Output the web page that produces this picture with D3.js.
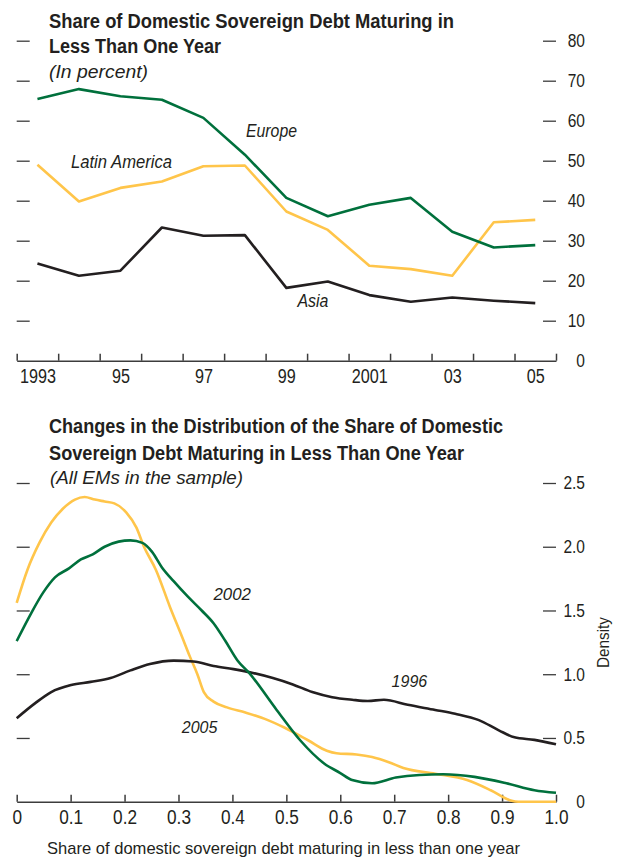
<!DOCTYPE html>
<html>
<head>
<meta charset="utf-8">
<script src="https://cdn.jsdelivr.net/npm/d3@7"></script>
<style>
  body { margin: 0; background: #fff; }
  svg { display: block; font-family: "Liberation Sans", Arial, sans-serif; }
</style>
</head>
<body>
<div id="chart"></div>
<script>
// Top panel: share maturing in < 1 year (percent)
const years = [1993, 1994, 1995, 1996, 1997, 1998, 1999, 2000, 2001, 2002, 2003, 2004, 2005];
const yearLabels = ["1993", "95", "97", "99", "2001", "03", "05"];
const europe = [65.4, 67.9, 66.1, 65.25, 60.7, 51.5, 40.7, 36.1, 39, 40.7, 32.25, 28.3, 28.9];
const latinAmerica = [49, 39.8, 43.2, 44.8, 48.6, 48.8, 37.3, 32.7, 23.75, 22.9, 21.25, 34.6, 35.2];
const asia = [24.3, 21.25, 22.5, 33.3, 31.25, 31.4, 18.2, 19.8, 16.4, 14.75, 15.8, 15, 14.4];
const percentTicks = [0, 10, 20, 30, 40, 50, 60, 70, 80];

// Bottom panel: densities [share, density]
const density1996 = [[0,0.655],[0.035,0.775],[0.064,0.86],[0.101,0.915],[0.137,0.94],[0.174,0.97],[0.211,1.03],[0.247,1.08],[0.291,1.107],[0.328,1.10],[0.365,1.065],[0.402,1.04],[0.438,1.01],[0.475,0.97],[0.512,0.92],[0.548,0.86],[0.585,0.82],[0.622,0.80],[0.651,0.79],[0.681,0.80],[0.725,0.76],[0.776,0.72],[0.813,0.69],[0.857,0.64],[0.894,0.56],[0.923,0.505],[0.960,0.485],[1.0,0.45]];
const density2002 = [[0,1.26],[0.027,1.48],[0.049,1.64],[0.071,1.76],[0.097,1.83],[0.119,1.90],[0.141,1.94],[0.163,2.0],[0.189,2.04],[0.211,2.05],[0.233,2.03],[0.251,1.96],[0.269,1.84],[0.291,1.73],[0.317,1.61],[0.343,1.50],[0.365,1.40],[0.387,1.26],[0.409,1.11],[0.431,1.01],[0.482,0.72],[0.526,0.48],[0.570,0.30],[0.600,0.225],[0.622,0.17],[0.659,0.145],[0.703,0.19],[0.747,0.21],[0.791,0.215],[0.849,0.195],[0.908,0.145],[0.960,0.09],[1.0,0.07]];
const density2005 = [[0,1.56],[0.02,1.82],[0.042,2.03],[0.064,2.19],[0.086,2.30],[0.108,2.37],[0.126,2.39],[0.145,2.37],[0.163,2.355],[0.181,2.34],[0.203,2.27],[0.222,2.15],[0.236,2.0],[0.258,1.82],[0.284,1.53],[0.306,1.30],[0.321,1.14],[0.335,1.0],[0.347,0.86],[0.365,0.785],[0.39,0.74],[0.424,0.70],[0.46,0.65],[0.497,0.58],[0.541,0.48],[0.575,0.40],[0.593,0.38],[0.63,0.37],[0.659,0.35],[0.69,0.31],[0.717,0.265],[0.776,0.22],[0.835,0.17],[0.879,0.09],[0.916,0.01],[0.93,0],[1.0,0]];
const shareTicks = [0, 0.1, 0.2, 0.3, 0.4, 0.5, 0.6, 0.7, 0.8, 0.9, 1.0];
const densityTicks = [0, 0.5, 1.0, 1.5, 2.0, 2.5];

const green = "#00703c", yellow = "#ffc54a", black = "#231f20";
const ink = "#231f20", axisInk = "#3c3c3c";
const width = 619, height = 858;
const left = 16.7, right = 556;

const svg = d3.select("#chart").append("svg")
    .attr("width", width)
    .attr("height", height);

// squeeze text horizontally (condensed look); target width if given, else factor
function condense(sel, target, k = 0.81) {
    sel.each(function () {
        const w = this.getComputedTextLength();
        d3.select(this)
            .attr("textLength", target || w * k)
            .attr("lengthAdjust", "spacingAndGlyphs");
    });
}

function label(x, y, txt, opts) {
    const t = svg.append("text")
        .attr("x", x).attr("y", y)
        .attr("fill", ink)
        .attr("font-size", opts.size + "px")
        .attr("font-weight", opts.bold ? "bold" : null)
        .attr("font-style", opts.italic ? "italic" : null)
        .attr("text-anchor", opts.anchor || "start")
        .text(txt);
    condense(t, opts.w);
    return t;
}

// ---------- Top panel ----------
const xTop = d3.scaleLinear().domain([1992.5, 2005.5]).range([left, right]);
const yTop = d3.scaleLinear().domain([0, 80]).range([360.7, 40.7]);

label(49, 28, "Share of Domestic Sovereign Debt Maturing in", { size: 20, bold: true, w: 405 });
label(49, 53, "Less Than One Year", { size: 20, bold: true, w: 172 });
label(49, 78, "(In percent)", { size: 18, italic: true, w: 99 });

// left dashes
svg.append("g")
    .attr("transform", `translate(${left},0)`)
    .call(d3.axisLeft(yTop).tickValues(percentTicks.filter(d => d > 0)).tickSize(-13).tickFormat(""))
    .call(g => g.select(".domain").remove())
    .call(g => g.selectAll("line").attr("stroke", axisInk).attr("stroke-width", 1.3));

// right axis
svg.append("g")
    .attr("transform", `translate(${right},0)`)
    .call(d3.axisRight(yTop).tickValues(percentTicks).tickSize(-13).tickPadding(29))
    .call(g => g.select(".domain").remove())
    .call(g => g.selectAll("line").attr("stroke", axisInk).attr("stroke-width", 1.3)
        .filter(d => d === 0).remove())
    .call(g => g.selectAll("text").attr("text-anchor", "end").attr("fill", ink)
        .attr("font-size", "18.5px").attr("font-family", null).call(condense, null, 0.84));

// bottom axis: boundary ticks + year labels at band centres
const edges = d3.range(1992.5, 2006, 1);
svg.append("g")
    .attr("transform", "translate(0,360.7)")
    .call(d3.axisBottom(xTop).tickValues(edges).tickSize(-7).tickSizeOuter(0).tickFormat(""))
    .call(g => g.select(".domain").attr("stroke", axisInk).attr("stroke-width", 1.6))
    .call(g => g.selectAll("line").attr("stroke", axisInk).attr("stroke-width", 1.5));

const labelYears = years.filter((d, i) => i % 2 === 0);
svg.append("g")
    .attr("transform", "translate(0,360.7)")
    .call(d3.axisBottom(xTop).tickValues(labelYears).tickSize(0).tickPadding(8)
        .tickFormat((d, i) => yearLabels[i]))
    .call(g => g.select(".domain").remove())
    .call(g => g.selectAll("text").attr("fill", ink).attr("font-size", "20px")
        .attr("font-family", null).call(condense));

const lineTop = d3.line().x((d, i) => xTop(years[i])).y(d => yTop(d));
[[latinAmerica, yellow], [asia, black], [europe, green]].forEach(([s, c]) => {
    svg.append("path")
        .datum(s)
        .attr("d", lineTop)
        .attr("fill", "none")
        .attr("stroke", c)
        .attr("stroke-width", 2.6)
        .attr("stroke-linejoin", "round");
});

label(246, 137, "Europe", { size: 17.5, italic: true, w: 51 });
label(71, 168, "Latin America", { size: 17.5, italic: true, w: 101 });
label(297.4, 307, "Asia", { size: 17.5, italic: true, w: 31 });

// ---------- Bottom panel ----------
const xBot = d3.scaleLinear().domain([0, 1]).range([left, right]);
const yBot = d3.scaleLinear().domain([0, 2.5]).range([801.7, 483]);

label(49, 433, "Changes in the Distribution of the Share of Domestic", { size: 20, bold: true, w: 454 });
label(49, 460, "Sovereign Debt Maturing in Less Than One Year", { size: 20, bold: true, w: 415 });
label(50, 484, "(All EMs in the sample)", { size: 18, italic: true, w: 193 });

svg.append("g")
    .attr("transform", `translate(${left},0)`)
    .call(d3.axisLeft(yBot).tickValues(densityTicks.filter(d => d > 0)).tickSize(-13).tickFormat(""))
    .call(g => g.select(".domain").remove())
    .call(g => g.selectAll("line").attr("stroke", axisInk).attr("stroke-width", 1.3));

svg.append("g")
    .attr("transform", `translate(${right},0)`)
    .call(d3.axisRight(yBot).tickValues(densityTicks).tickSize(-13).tickPadding(29)
        .tickFormat(d => d === 0 ? "0" : d3.format(".1f")(d)))
    .call(g => g.select(".domain").remove())
    .call(g => g.selectAll("line").attr("stroke", axisInk).attr("stroke-width", 1.3)
        .filter(d => d === 0).remove())
    .call(g => g.selectAll("text").attr("text-anchor", "end").attr("fill", ink)
        .attr("font-size", "18.5px").attr("font-family", null).call(condense, null, 0.84));

svg.append("g")
    .attr("transform", "translate(0,801.7)")
    .call(d3.axisBottom(xBot).tickValues(shareTicks).tickSize(-7).tickSizeOuter(0).tickPadding(8)
        .tickFormat(d => d === 0 ? "0" : d3.format(".1f")(d)))
    .call(g => g.select(".domain").attr("stroke", axisInk).attr("stroke-width", 1.6))
    .call(g => g.selectAll("line").attr("stroke", axisInk).attr("stroke-width", 1.5))
    .call(g => g.selectAll("text").attr("fill", ink).attr("font-size", "20px")
        .attr("font-family", null).call(condense, null, 0.86));

const lineBot = d3.line().x(d => xBot(d[0])).y(d => yBot(d[1])).curve(d3.curveMonotoneX);
[[density2005, yellow], [density1996, black], [density2002, green]].forEach(([s, c]) => {
    svg.append("path")
        .datum(s)
        .attr("d", lineBot)
        .attr("fill", "none")
        .attr("stroke", c)
        .attr("stroke-width", 2.6)
        .attr("stroke-linejoin", "round");
});

label(213.5, 600, "2002", { size: 17, italic: true, w: 37.5 });
label(391.6, 687, "1996", { size: 17, italic: true, w: 35.6 });
label(181.8, 733, "2005", { size: 17, italic: true, w: 35.6 });

label(283.5, 854, "Share of domestic sovereign debt maturing in less than one year", { size: 17, anchor: "middle", w: 473 });

svg.append("text")
    .attr("transform", "translate(609,642.5) rotate(-90)")
    .attr("text-anchor", "middle")
    .attr("fill", ink)
    .attr("font-size", "17px")
    .text("Density")
    .call(t => condense(t, 51));
</script>
</body>
</html>
